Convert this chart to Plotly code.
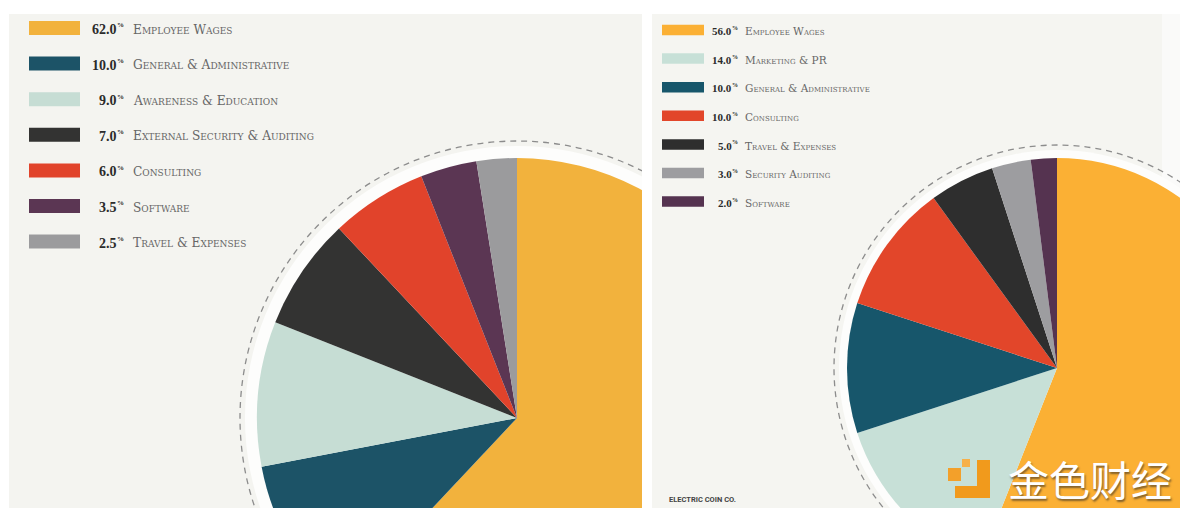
import plotly.graph_objects as go

# ---------------- data ----------------
left_labels = ["Employee Wages", "General & Administrative", "Awareness & Education",
               "External Security & Auditing", "Consulting", "Software", "Travel & Expenses"]
left_values = [62.0, 10.0, 9.0, 7.0, 6.0, 3.5, 2.5]
left_colors = ["#f2b23d", "#1c5367", "#c6ddd4", "#333332", "#e1432b", "#5b3653", "#9b9b9d"]

right_labels = ["Employee Wages", "Marketing & PR", "General & Administrative", "Consulting",
                "Travel & Expenses", "Security Auditing", "Software"]
right_values = [56.0, 14.0, 10.0, 10.0, 5.0, 3.0, 2.0]
right_colors = ["#fbb034", "#c7e0d7", "#17566b", "#e2462a", "#2e2e2e", "#9d9da0", "#553350"]

footer_text = "ELECTRIC COIN CO."
watermark_text = "金色财经"

# ---------------- layout helpers ----------------
W, H = 1280, 690          # canvas is larger than the window; the window crops it
BG_PANEL = "#f5f5f1"


def fx(x):
    return x / W


def fy(y):
    return 1 - y / H


fig = go.Figure()


def add_pie(values, labels, colors, cx, cy, r, name):
    fig.add_trace(go.Pie(
        name=name, values=values, labels=labels,
        marker=dict(colors=colors, line=dict(width=0)),
        sort=False, direction="clockwise", rotation=0,
        textinfo="none", hoverinfo="label+percent", showlegend=False,
        domain=dict(x=[fx(cx - r), fx(cx + r)], y=[fy(cy + r), fy(cy - r)]),
    ))


LCX, LCY, LR = 517, 418, 260
RCX, RCY, RR = 1057, 368, 210

add_pie(left_values, left_labels, left_colors, LCX, LCY, LR, "left")
add_pie(right_values, right_labels, right_colors, RCX, RCY, RR, "right")

shapes = []


def rect(x0, y0, x1, y1, color, layer="below"):
    shapes.append(dict(type="rect", xref="paper", yref="paper",
                       x0=fx(x0), x1=fx(x1), y0=fy(y1), y1=fy(y0),
                       fillcolor=color, line=dict(width=0), layer=layer))


def circle(cx, cy, r, fill=None, dash=None, layer="below"):
    d = dict(type="circle", xref="paper", yref="paper",
             xsizemode="pixel", ysizemode="pixel",
             xanchor=fx(cx), yanchor=fy(cy),
             x0=-r, x1=r, y0=-r, y1=r, layer=layer)
    if fill:
        d["fillcolor"] = fill
        d["line"] = dict(width=0)
    else:
        d["line"] = dict(color="#8c8c8c", width=1.3, dash=dash)
    shapes.append(d)


# panels (below pies)
rect(9, 14, 642, H, "#f4f4f0")
rect(652, 14, 1162, H, BG_PANEL)
rect(1162, 14, W, H, "#fafaf9")
# rings round the pies
circle(LCX, LCY, 272, fill="#fdfdfc")
circle(LCX, LCY, 277, dash="6px,5px")
circle(RCX, RCY, 218, fill="#fdfdfc")
circle(RCX, RCY, 223, dash="6px,5px")

# crop the left pie at its panel edge (above pies)
rect(642, 0, 652, H, "#ffffff", layer="above")
rect(652, 14, 818, H, BG_PANEL, layer="above")
rect(0, 0, W, 14, "#ffffff", layer="above")

annotations = []


def note(x, y, text, xanchor, size, family, color, **fontkw):
    annotations.append(dict(
        xref="paper", yref="paper", x=fx(x), y=fy(y), xanchor=xanchor, yanchor="middle",
        text=text, showarrow=False, borderpad=0, borderwidth=0,
        font=dict(family=family, size=size, color=color, **fontkw)))


def legend(values, labels, colors, sw_x0, sw_x1, top, step, sw_h,
           val_x, lab_x, vsize, psize, lsize, dy):
    for i, (v, lab, c) in enumerate(zip(values, labels, colors)):
        yc = top + i * step
        rect(sw_x0, yc - sw_h / 2, sw_x1, yc + sw_h / 2, c, layer="above")
        pct_w = psize * 0.85
        ty = yc + dy
        note(val_x - pct_w, ty, f"{v:.1f}", "right", vsize, "Liberation Serif", "#2b2b2b",
             weight="bold")
        note(val_x - pct_w, ty - vsize * 0.3, "%", "left", psize, "Liberation Serif", "#2b2b2b",
             weight="bold")
        note(lab_x, ty, lab, "left", lsize, "DejaVu Serif", "#666666", variant="small-caps")


legend(left_values, left_labels, left_colors, 29, 80, 28, 35.6, 14, 123, 133, 14, 7, 12.2, 1.5)
legend(right_values, right_labels, right_colors, 662, 704, 30, 28.6, 10.5, 737, 745, 11, 6, 10.5, 1.2)

note(669, 499, footer_text, "left", 7.5, "Roboto", "#444444", weight="bold")

# watermark logo
rect(977, 460, 990, 498, "#f19a1c", layer="above")
rect(955, 486, 990, 498, "#f19a1c", layer="above")
rect(948, 468, 961, 481, "#f3a02a", layer="above")
rect(962, 459, 970, 467, "#f6b04a", layer="above")
note(1090, 478, watermark_text, "center", 41, "Noto Sans CJK SC", "#ffffff",
     shadow="1px 2px 2px rgba(90,70,40,0.75)")

fig.update_layout(
    width=W, height=H,
    margin=dict(l=0, r=0, t=0, b=0),
    paper_bgcolor="#ffffff", plot_bgcolor="#ffffff",
    shapes=shapes, annotations=annotations,
    showlegend=False,
)

fig.write_html(
    "out.html",
    config=dict(displayModeBar=False),
    post_script="document.documentElement.style.overflow='hidden';"
                "document.body.style.overflow='hidden';document.body.style.margin='0';",
)
